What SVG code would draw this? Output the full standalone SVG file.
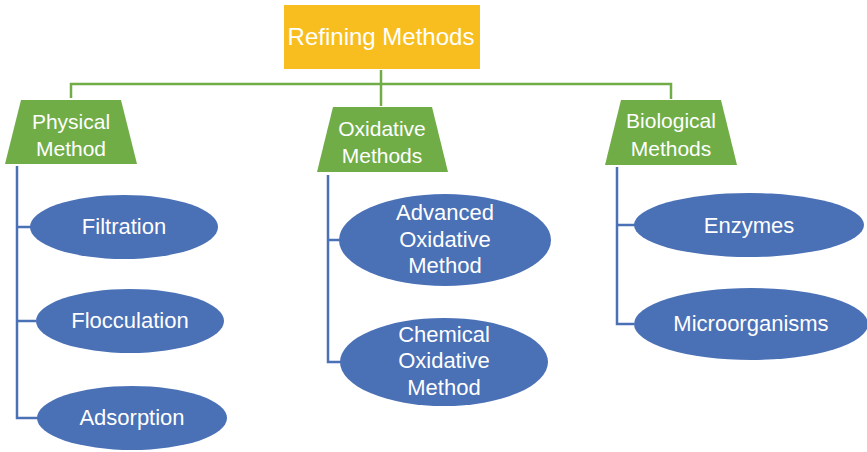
<svg xmlns="http://www.w3.org/2000/svg" width="867" height="452" viewBox="0 0 867 452">
  <style>
    .lbl { font-family: "Liberation Sans", Arial, sans-serif; fill: #ffffff; text-anchor: middle; }
    .root { fill: #F8BE20; }
    .cat { fill: #70AD47; }
    .leaf { fill: #4A70B6; }
    .gline { fill: none; stroke: #70AD47; stroke-width: 2.5; }
    .bline { fill: none; stroke: #4A70B6; stroke-width: 2.5; }
  </style>
  <rect width="867" height="452" fill="#ffffff"/>

  <!-- connectors -->
  <g id="connectors">
    <path class="gline" d="M381 70 V106 M71 98 V84 H671 V99"/>
    <path class="bline" d="M17 166 V418 H38 M17 227 H31 M17 321 H36"/>
    <path class="bline" d="M328 175 V362 H341 M328 240 H340"/>
    <path class="bline" d="M617 167 V324 H634 M617 225 H635"/>
  </g>

  <!-- root -->
  <g id="refining-methods">
    <rect class="root" x="284" y="5" width="196" height="64"/>
    <text class="lbl" x="381" y="45" font-size="24">Refining Methods</text>
  </g>

  <!-- categories -->
  <g id="physical-method">
    <polygon class="cat" points="21,100 121,100 137,164 5,164"/>
    <text class="lbl" x="71" y="129" font-size="21">Physical</text>
    <text class="lbl" x="71" y="156" font-size="21">Method</text>
  </g>
  <g id="oxidative-methods">
    <polygon class="cat" points="333,107 432,107 448,172 317,172"/>
    <text class="lbl" x="382" y="136" font-size="21">Oxidative</text>
    <text class="lbl" x="382" y="163" font-size="21">Methods</text>
  </g>
  <g id="biological-methods">
    <polygon class="cat" points="621,100 721,100 737,165 605,165"/>
    <text class="lbl" x="671" y="128" font-size="21">Biological</text>
    <text class="lbl" x="671" y="156" font-size="21">Methods</text>
  </g>

  <!-- physical leaves -->
  <g id="filtration">
    <ellipse class="leaf" cx="124" cy="227" rx="94" ry="32"/>
    <text class="lbl" x="124" y="234" font-size="22">Filtration</text>
  </g>
  <g id="flocculation">
    <ellipse class="leaf" cx="130" cy="321" rx="94" ry="32"/>
    <text class="lbl" x="130" y="328" font-size="22">Flocculation</text>
  </g>
  <g id="adsorption">
    <ellipse class="leaf" cx="132" cy="418" rx="95" ry="32"/>
    <text class="lbl" x="132" y="425" font-size="22">Adsorption</text>
  </g>

  <!-- oxidative leaves -->
  <g id="advanced-oxidative">
    <ellipse class="leaf" cx="445" cy="240" rx="106" ry="46"/>
    <text class="lbl" x="445" y="220" font-size="22">Advanced</text>
    <text class="lbl" x="445" y="247" font-size="22">Oxidative</text>
    <text class="lbl" x="445" y="273" font-size="22">Method</text>
  </g>
  <g id="chemical-oxidative">
    <ellipse class="leaf" cx="444" cy="362" rx="104" ry="44"/>
    <text class="lbl" x="444" y="342" font-size="22">Chemical</text>
    <text class="lbl" x="444" y="368" font-size="22">Oxidative</text>
    <text class="lbl" x="444" y="395" font-size="22">Method</text>
  </g>

  <!-- biological leaves -->
  <g id="enzymes">
    <ellipse class="leaf" cx="749" cy="225" rx="115" ry="32"/>
    <text class="lbl" x="749" y="233" font-size="22">Enzymes</text>
  </g>
  <g id="microorganisms">
    <ellipse class="leaf" cx="751" cy="324" rx="117" ry="36"/>
    <text class="lbl" x="751" y="331" font-size="22">Microorganisms</text>
  </g>
</svg>
